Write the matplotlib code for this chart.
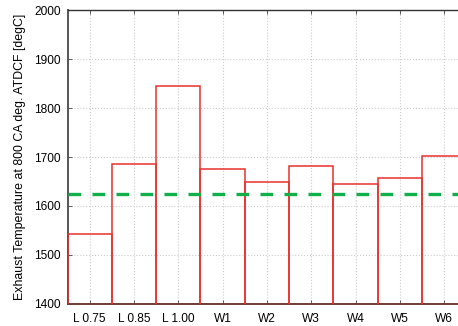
"""Exhaust temperature per case, drawn as open step boxes."""
import matplotlib

matplotlib.use("Agg")
import matplotlib.pyplot as plt
import numpy as np

categories = ["L 0.75", "L 0.85", "L 1.00", "W1", "W2", "W3", "W4", "W5", "W6"]
exhaust_temp = [1543, 1686, 1845, 1675, 1648, 1681, 1645, 1657, 1703]
reference_temp = 1625

plt.rcParams["font.family"] = ["Liberation Sans", "DejaVu Sans"]
plt.rcParams["font.size"] = 8.6

fig = plt.figure(figsize=(4.58, 3.26), dpi=100)
ax = fig.add_axes([0.1474, 0.069, 0.871, 0.8988])

x = np.arange(len(categories))
ax.bar(x, exhaust_temp, width=1.0, fill=False, edgecolor="#e8302c", linewidth=1.1, zorder=3)
ax.axhline(reference_temp, color="#11b04a", linewidth=2.4, linestyle=(0, (3.8, 3.4)), zorder=4)

ax.set_xlim(-0.5, 8.5)
ax.set_ylim(1400, 2000)
ax.set_yticks(np.arange(1400, 2001, 100))
ax.set_xticks(x)
ax.set_xticklabels(categories)
ax.set_ylabel("Exhaust Temperature at 800 CA deg. ATDCF [degC]", fontsize=8.9, labelpad=6)

ax.grid(True, color="#cccccc", linestyle=":", linewidth=0.8, zorder=0)
ax.tick_params(direction="in", length=3, width=0.6, color="#444444", pad=5,
               top=True, right=True)
ax.tick_params(axis="x", pad=6.5)
for side, sp in ax.spines.items():
    sp.set_color("#333333")
    sp.set_linewidth(1.0)
ax.spines["left"].set_color("#555555")
ax.spines["left"].set_linewidth(1.4)
ax.spines["bottom"].set_color("#6e3c34")
ax.spines["bottom"].set_linewidth(1.4)

fig.savefig("out.png", dpi=100)
